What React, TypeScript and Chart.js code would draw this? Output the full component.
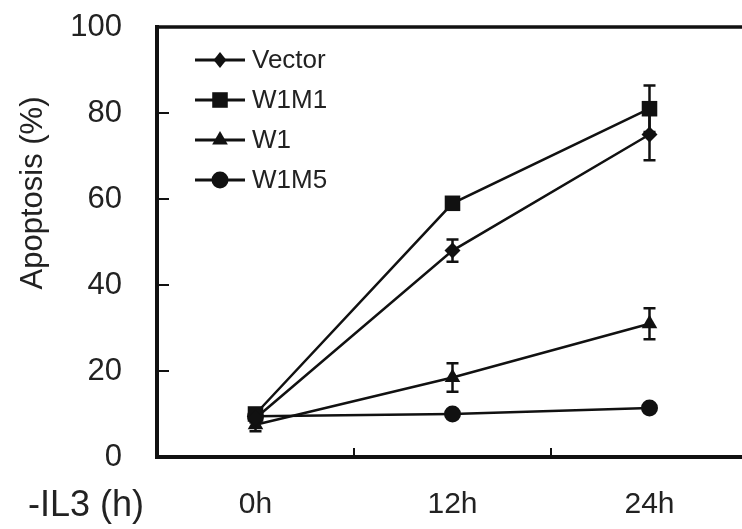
import React, { useEffect, useRef } from "react";
import { Chart, registerables } from "chart.js";

Chart.register(...registerables);

const categories = ["0h", "12h", "24h"];
const seriesNames = ["Vector", "W1M1", "W1", "W1M5"];
const vectorValues = [9, 48, 75];
const vectorErrors = [1, 2.6, 6];
const w1m1Values = [10, 59, 81];
const w1m1Errors = [1, 1.2, 5.4];
const w1Values = [7.5, 18.5, 31];
const w1Errors = [1.5, 3.3, 3.6];
const w1m5Values = [9.5, 10, 11.4];
const w1m5Errors = [0.5, 0.5, 0.5];
const yTicks = [0, 20, 40, 60, 80, 100];
const yTitle = "Apoptosis (%)";
const xTitle = "-IL3 (h)";

const FONT = "'Liberation Sans', Arial, sans-serif";
const INK = "#111";

function drawMarker(ctx: CanvasRenderingContext2D, style: string, x: number, y: number, r: number) {
  ctx.beginPath();
  if (style === "rectRot") {
    ctx.moveTo(x, y - r);
    ctx.lineTo(x + r * 0.8, y);
    ctx.lineTo(x, y + r);
    ctx.lineTo(x - r * 0.8, y);
    ctx.closePath();
  } else if (style === "rect") {
    const s = r * Math.SQRT1_2;
    ctx.rect(x - s, y - s, 2 * s, 2 * s);
  } else if (style === "triangle") {
    ctx.moveTo(x, y - r);
    ctx.lineTo(x + r * 0.87, y + r * 0.5);
    ctx.lineTo(x - r * 0.87, y + r * 0.5);
    ctx.closePath();
  } else {
    ctx.arc(x, y, r, 0, Math.PI * 2);
  }
  ctx.fillStyle = INK;
  ctx.fill();
}

const decorPlugin = {
  id: "decor",
  beforeDatasetsDraw(chart: any) {
    const { ctx, chartArea, scales } = chart;
    const y = scales.y;
    const x = scales.x;
    ctx.save();
    ctx.strokeStyle = INK;
    ctx.lineCap = "butt";
    ctx.lineWidth = 3.5;
    ctx.beginPath();
    ctx.moveTo(chartArea.left - 2, chartArea.top);
    ctx.lineTo(chart.width, chartArea.top);
    ctx.stroke();
    ctx.lineWidth = 4;
    ctx.beginPath();
    ctx.moveTo(chartArea.left, chartArea.top - 2);
    ctx.lineTo(chartArea.left, chartArea.bottom + 2);
    ctx.stroke();
    ctx.beginPath();
    ctx.moveTo(chartArea.left - 2, chartArea.bottom);
    ctx.lineTo(chart.width, chartArea.bottom);
    ctx.stroke();
    ctx.lineWidth = 2;
    yTicks.forEach((v) => {
      if (v === yTicks[0] || v === yTicks[yTicks.length - 1]) return;
      const py = y.getPixelForValue(v);
      ctx.beginPath();
      ctx.moveTo(chartArea.left, py);
      ctx.lineTo(chartArea.left + 12, py);
      ctx.stroke();
    });
    for (let i = 0; i < categories.length - 1; i++) {
      const px = (x.getPixelForValue(i) + x.getPixelForValue(i + 1)) / 2;
      ctx.beginPath();
      ctx.moveTo(px, chartArea.bottom);
      ctx.lineTo(px, chartArea.bottom - 9);
      ctx.stroke();
    }
    chart.data.datasets.forEach((ds: any) => {
      const errs: number[] = ds.errors;
      ctx.lineWidth = 2.5;
      ds.data.forEach((v: number, i: number) => {
        const e = errs[i];
        const px = x.getPixelForValue(i);
        const top = y.getPixelForValue(v + e);
        const bot = y.getPixelForValue(v - e);
        ctx.beginPath();
        ctx.moveTo(px, top);
        ctx.lineTo(px, bot);
        ctx.moveTo(px - 6, top);
        ctx.lineTo(px + 6, top);
        ctx.moveTo(px - 6, bot);
        ctx.lineTo(px + 6, bot);
        ctx.stroke();
      });
    });
    ctx.restore();
  },
  afterDraw(chart: any) {
    const { ctx, chartArea } = chart;
    ctx.save();
    const lx0 = chartArea.left + 38;
    const lx1 = chartArea.left + 88;
    chart.data.datasets.forEach((ds: any, i: number) => {
      const ly = chartArea.top + 33 + i * 40;
      ctx.strokeStyle = INK;
      ctx.lineWidth = 3;
      ctx.beginPath();
      ctx.moveTo(lx0, ly);
      ctx.lineTo(lx1, ly);
      ctx.stroke();
      drawMarker(ctx, ds.pointStyle, (lx0 + lx1) / 2, ly, ds.pointRadius);
      ctx.fillStyle = "#222";
      ctx.font = `26px ${FONT}`;
      ctx.textAlign = "left";
      ctx.textBaseline = "middle";
      ctx.fillText(ds.label, lx1 + 7, ly + 1);
    });
    ctx.save();
    ctx.translate(33, 193);
    ctx.rotate(-Math.PI / 2);
    ctx.fillStyle = "#222";
    ctx.font = `31px ${FONT}`;
    ctx.textAlign = "center";
    ctx.textBaseline = "middle";
    ctx.fillText(yTitle, 0, 0);
    ctx.restore();
    ctx.fillStyle = "#222";
    ctx.font = `36px ${FONT}`;
    ctx.textAlign = "center";
    ctx.textBaseline = "middle";
    ctx.fillText(xTitle, 86, 506);
    ctx.restore();
  },
};

export default function App() {
  const ref = useRef<HTMLCanvasElement>(null);
  useEffect(() => {
    if (!ref.current) return;
    const mk = (label: string, data: number[], errors: number[], pointStyle: string, r: number) => ({
      label,
      data,
      errors,
      pointStyle,
      pointRadius: r,
      pointHoverRadius: r,
      borderColor: INK,
      backgroundColor: INK,
      pointBackgroundColor: INK,
      pointBorderColor: INK,
      pointBorderWidth: 0,
      borderWidth: 2.5,
      tension: 0,
      fill: false,
    });
    const chart = new Chart(ref.current, {
      type: "line",
      data: {
        labels: categories,
        datasets: [
          mk(seriesNames[0], vectorValues, vectorErrors, "rectRot", 8),
          mk(seriesNames[1], w1m1Values, w1m1Errors, "rect", 11),
          mk(seriesNames[2], w1Values, w1Errors, "triangle", 9),
          mk(seriesNames[3], w1m5Values, w1m5Errors, "circle", 8.5),
        ] as any,
      },
      options: {
        responsive: false,
        animation: false,
        events: [],
        layout: { padding: { top: 27, right: 12, left: 0, bottom: 0 } },
        plugins: { legend: { display: false }, tooltip: { enabled: false } },
        scales: {
          x: {
            type: "category",
            offset: true,
            grid: { display: false, drawTicks: false },
            border: { display: false },
            ticks: { color: "#222", font: { size: 30, family: FONT }, padding: 30, maxRotation: 0 },
            afterFit: (s: any) => {
              s.height = 72;
              s.paddingLeft = 0;
              s.paddingRight = 0;
            },
          },
          y: {
            min: 0,
            max: 100,
            afterBuildTicks: (s: any) => {
              s.ticks = yTicks.map((v) => ({ value: v }));
            },
            grid: { display: false, drawTicks: false },
            border: { display: false },
            ticks: { color: "#222", font: { size: 31, family: FONT }, padding: 35 },
            afterFit: (s: any) => {
              s.width = 157;
              s.paddingTop = 0;
              s.paddingBottom = 0;
            },
          },
        },
      },
      plugins: [decorPlugin],
    });
    return () => chart.destroy();
  }, []);
  return (
    <div style={{ position: "fixed", left: 0, top: 0, width: 742, height: 529, overflow: "hidden", background: "#fff" }}>
      <canvas ref={ref} width={760} height={529} style={{ display: "block", width: 760, height: 529 }} />
    </div>
  );
}
